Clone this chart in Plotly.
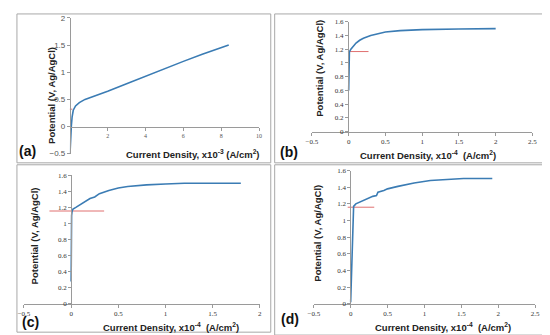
import plotly.graph_objects as go

W, H = 550, 335

# ---------------- data ----------------
a_x = [0.0, 0.02, 0.05, 0.08, 0.12, 0.18, 0.3, 0.5, 0.8, 1.2, 1.6, 2.0, 3.0, 4.0, 5.0, 6.0, 7.0, 8.0, 8.4]
a_y = [-0.55, -0.35, -0.15, 0.02, 0.18, 0.3, 0.38, 0.44, 0.5, 0.55, 0.6, 0.65, 0.79, 0.93, 1.06, 1.2, 1.33, 1.45, 1.5]
a_ref_x = [-0.18, 0.13]
a_ref_y = [0.32, 0.32]

b_x = [0.0, 0.0, 0.003, 0.01, 0.03, 0.06, 0.1, 0.15, 0.2, 0.3, 0.4, 0.5, 0.7, 1.0, 1.5, 2.0]
b_y = [0.6, 0.9, 1.1, 1.16, 1.2, 1.24, 1.29, 1.33, 1.36, 1.4, 1.43, 1.45, 1.47, 1.485, 1.495, 1.5]
b_ref_x = [-0.01, 0.27]
b_ref_y = [1.166, 1.166]

c_x = [0.0, 0.0, 0.005, 0.01, 0.02, 0.05, 0.1, 0.15, 0.2, 0.25, 0.3, 0.4, 0.5, 0.6, 0.8, 1.0, 1.2, 1.5, 1.8]
c_y = [0.28, 0.8, 1.1, 1.15, 1.18, 1.2, 1.24, 1.27, 1.31, 1.33, 1.37, 1.41, 1.44, 1.46, 1.48, 1.49, 1.5, 1.5, 1.5]
c_ref_x = [-0.23, 0.35]
c_ref_y = [1.155, 1.155]

d_x = [0.0, 0.01, 0.02, 0.03, 0.04, 0.07, 0.12, 0.2, 0.24, 0.3, 0.35, 0.37, 0.45, 0.5, 0.64, 0.86, 1.08, 1.3, 1.53, 1.92]
d_y = [0.02, 0.4, 0.8, 1.1, 1.17, 1.2, 1.22, 1.245, 1.27, 1.29, 1.30, 1.34, 1.36, 1.38, 1.41, 1.45, 1.48, 1.495, 1.505, 1.505]
d_ref_x = [-0.04, 0.32]
d_ref_y = [1.16, 1.16]

a_xticks = [2, 4, 6, 8, 10]
a_yticks = [-0.5, 0, 0.5, 1, 1.5, 2]
bd_xticks = [-0.5, 0, 0.5, 1, 1.5, 2, 2.5]
c_xticks = [-0.5, 0, 0.5, 1, 1.5, 2]
y_ticks16 = [0, 0.2, 0.4, 0.6, 0.8, 1, 1.2, 1.4, 1.6]

panel_labels = ["(a)", "(b)", "(c)", "(d)"]
ylabel = "Potential (V, Ag/AgCl)"
xlabel_a = "Current Density, x10<sup>-3</sup> (A/cm<sup>2</sup>)"
xlabel_4 = "Current Density, x10<sup>-4</sup>  (A/cm<sup>2</sup>)"

# ---------------- helpers ----------------
def px(v):
    return v / W

def py(v):
    return 1 - v / H

LINE = "#3b7cb4"
RED = "#e07070"
AX = "#9a9a9a"

fig = go.Figure()

def add_panel(i, xs, ys, rx, ry):
    suf = "" if i == 1 else str(i)
    fig.add_trace(go.Scatter(x=rx, y=ry, mode="lines", line=dict(color=RED, width=1),
                             xaxis="x" + suf, yaxis="y" + suf, showlegend=False, hoverinfo="skip", cliponaxis=False))
    fig.add_trace(go.Scatter(x=xs, y=ys, mode="lines", line=dict(color=LINE, width=1.6),
                             xaxis="x" + suf, yaxis="y" + suf, showlegend=False, hoverinfo="skip"))

add_panel(1, a_x, a_y, a_ref_x, a_ref_y)
add_panel(2, b_x, b_y, b_ref_x, b_ref_y)
add_panel(3, c_x, c_y, c_ref_x, c_ref_y)
add_panel(4, d_x, d_y, d_ref_x, d_ref_y)

serif_tick = dict(family="Liberation Serif", size=7, color="#333333")
sans_tick = dict(family="Liberation Sans", size=8, color="#555555")

common = dict(showgrid=False, zeroline=False, showline=True, linecolor=AX, linewidth=1,
              ticks="outside", ticklen=3, tickcolor=AX)

layout = dict(
    width=W, height=H, margin=dict(l=0, r=0, t=0, b=0),
    paper_bgcolor="white", plot_bgcolor="rgba(0,0,0,0)",
    # panel a
    xaxis=dict(domain=[px(57), px(250)], range=[0, 10], tickvals=a_xticks, anchor="free",
               position=py(117.7), tickfont=dict(family="Liberation Serif", size=6, color="#555"), **common),
    yaxis=dict(domain=[py(145.6), py(6.1)], range=[-0.5, 2], tickvals=a_yticks, anchor="free",
               position=px(57), tickfont=sans_tick, **common),
    # panel b
    xaxis2=dict(domain=[px(304), px(529)], range=[-0.5, 2.5], tickvals=bd_xticks, anchor="y2",
                tickfont=serif_tick, **common),
    yaxis2=dict(domain=[py(123), py(10)], range=[0, 1.6], tickvals=y_ticks16, anchor="free",
                position=px(340.7), tickfont=serif_tick, **common),
    # panel c
    xaxis3=dict(domain=[px(10.2), px(250.7)], range=[-0.5, 2], tickvals=c_xticks, anchor="y3",
                tickfont=serif_tick, **common),
    yaxis3=dict(domain=[py(300), py(167.7)], range=[0, 1.6], tickvals=y_ticks16, anchor="free",
                position=px(58.3), tickfont=serif_tick, **common),
    # panel d
    xaxis4=dict(domain=[px(305.9), px(531.7)], range=[-0.5, 2.5], tickvals=bd_xticks, anchor="y4",
                tickfont=serif_tick, **common),
    yaxis4=dict(domain=[py(300), py(162.9)], range=[0, 1.6], tickvals=y_ticks16, anchor="free",
                position=px(343.3), tickfont=serif_tick, **common),
)
fig.update_layout(**layout)

# panel borders
BORDER = "#a8a8a8"
for (x0, y0, x1, y1) in [(3, 2, 262, 155), (266, 2, 547, 155), (3, 157, 262, 329), (266, 157, 547, 332)]:
    fig.add_shape(type="rect", xref="paper", yref="paper", x0=px(x0), x1=px(x1), y0=py(y1), y1=py(y0),
                  line=dict(color=BORDER, width=1), fillcolor="rgba(0,0,0,0)", layer="below")

lab_font = dict(family="Liberation Sans", size=14, color="#111111")
title_font = dict(family="Liberation Sans", size=9.5, color="#222222")

# panel labels
for lab, (cx, cy) in zip(panel_labels, [(14, 143), (281, 144), (17, 319), (282, 315)]):
    fig.add_annotation(text="<b>%s</b>" % lab, x=px(cx), y=py(cy), xref="paper", yref="paper",
                       showarrow=False, xanchor="center", yanchor="middle", font=lab_font)

# y labels
for (cx, cy) in [(38, 86), (311.5, 58), (21, 230), (310, 227)]:
    fig.add_annotation(text="<b>%s</b>" % ylabel, x=px(cx), y=py(cy), xref="paper", yref="paper",
                       showarrow=False, textangle=-90, xanchor="center", yanchor="middle", font=title_font)

# x labels
for txt, (cx, cy) in [(xlabel_a, (183, 146)), (xlabel_4, (422, 147)), (xlabel_4, (160, 324)), (xlabel_4, (438, 324))]:
    fig.add_annotation(text="<b>%s</b>" % txt, x=px(cx), y=py(cy), xref="paper", yref="paper",
                       showarrow=False, xanchor="center", yanchor="middle", font=title_font)

fig.write_html("out.html")
